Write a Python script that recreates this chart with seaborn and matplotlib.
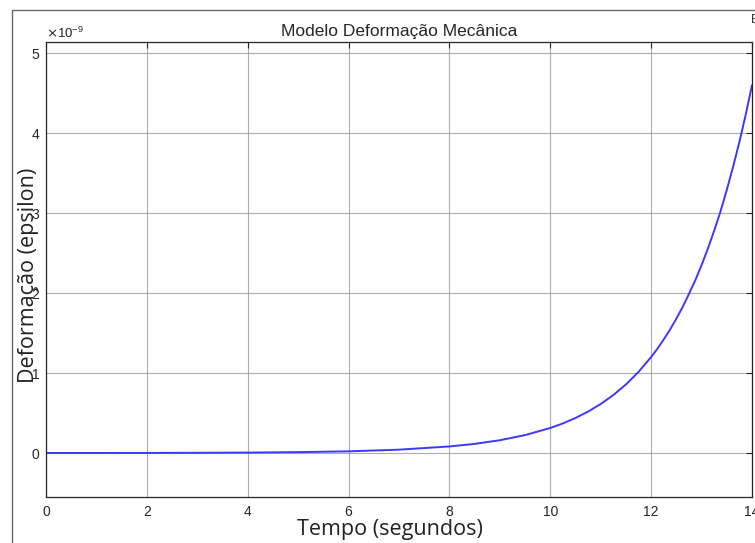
import numpy as np
import matplotlib
matplotlib.use("Agg")
import matplotlib.pyplot as plt
from matplotlib.lines import Line2D
from matplotlib.ticker import ScalarFormatter
import seaborn as sns

# values (deformation in units of 1e-9)
tempo = [0, 1, 2, 3, 4, 5, 6, 7, 8, 8.5, 9, 9.5, 10, 10.25, 10.5, 10.75,
         11, 11.25, 11.5, 11.75, 12, 12.125, 12.25, 12.375, 12.5, 12.625,
         12.75, 12.875, 13, 13.125, 13.25, 13.375, 13.5, 13.625, 13.75,
         13.875, 14]
deform_e9 = [0.0004, 0.0007, 0.0014, 0.0028, 0.0055, 0.011, 0.021, 0.042,
             0.082, 0.114, 0.16, 0.224, 0.313, 0.37, 0.438, 0.518, 0.613,
             0.725, 0.857, 1.014, 1.2, 1.305, 1.42, 1.544, 1.68, 1.826, 1.99,
             2.16, 2.35, 2.556, 2.78, 3.02, 3.29, 3.58, 3.89, 4.23, 4.6]
deform = np.array(deform_e9) * 1e-9

xticks = [0, 2, 4, 6, 8, 10, 12, 14]
yticks = np.array([0, 1, 2, 3, 4, 5]) * 1e-9

sns.set_style("white")
plt.rcParams["font.family"] = ["Liberation Sans", "DejaVu Sans"]

fig = plt.figure(figsize=(7.55, 5.43), dpi=100)
ax = fig.add_axes([46 / 755, 1 - 497 / 543, 706 / 755, 455 / 543])

sns.lineplot(x=tempo, y=deform, ax=ax, color="#3a3aff", linewidth=1.4)

ax.set_xlim(0, 14)
ax.set_ylim(-0.55e-9, 5.14e-9)
ax.set_xticks(xticks)
ax.set_yticks(yticks)
fmt = ScalarFormatter(useMathText=True)
fmt.set_powerlimits((0, 0))
ax.yaxis.set_major_formatter(fmt)
ax.yaxis.get_offset_text().set_fontsize(9.5)
ax.yaxis.get_offset_text().set_color("#333333")

ax.grid(True, color="#8a8a8a", linewidth=0.8, alpha=0.7)
ax.tick_params(direction="in", length=4, width=0.8, colors="#262626",
               labelsize=10, top=True, right=True)
ax.tick_params(axis="x", pad=6)
ax.tick_params(axis="y", pad=4)
for s in ax.spines.values():
    s.set_color("#262626")
    s.set_linewidth(0.9)

ax.set_title("Modelo Deformação Mecânica", fontsize=12.5, color="#262626", pad=4)
ax.set_xlabel("Tempo (segundos)", fontsize=15.5, family=["Open Sans", "DejaVu Sans"],
              color="#222222")
ax.set_ylabel("Deformação (epsilon)", fontsize=15.5, family=["Open Sans", "DejaVu Sans"],
              color="#222222")
ax.xaxis.set_label_coords(0.487, -0.048)
ax.yaxis.set_label_coords(-0.01, 0.488)

# outer frame of the screenshot
fig.add_artist(Line2D([12 / 755, 12 / 755], [0, 1 - 10 / 543],
                      transform=fig.transFigure, color="#666666", linewidth=1))
fig.add_artist(Line2D([12 / 755, 1], [1 - 10 / 543, 1 - 10 / 543],
                      transform=fig.transFigure, color="#666666", linewidth=1))
fig.text(751 / 755, 1 - 20 / 543, "E", fontsize=9, color="#333333", va="center")

fig.savefig("out.png", dpi=100)
